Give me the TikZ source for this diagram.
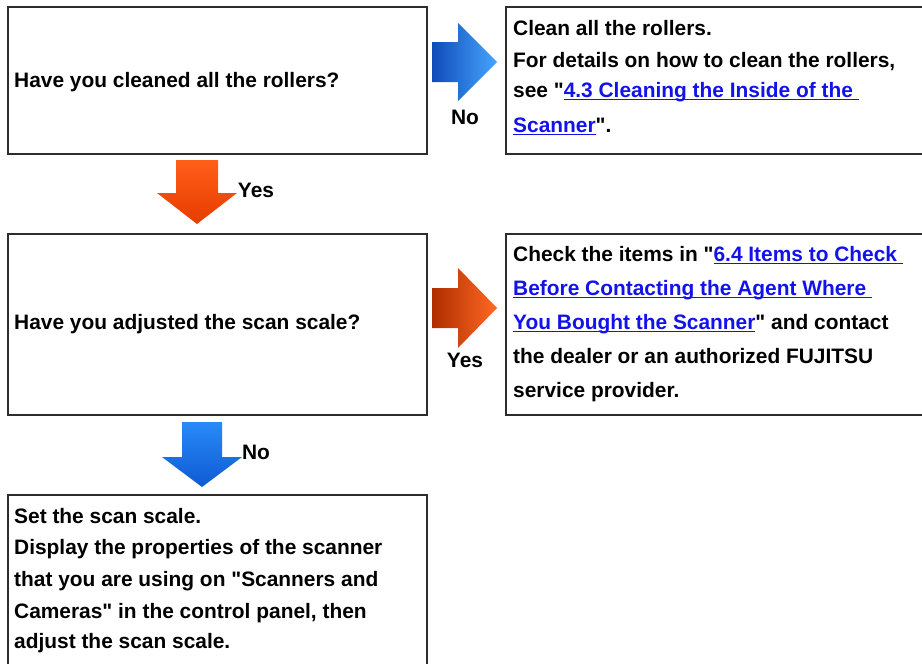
\documentclass[tikz,border=0pt]{standalone}
\usepackage{fontspec}
\setmainfont{Liberation Sans}
\definecolor{linkblue}{RGB}{18,18,235}
\definecolor{boxline}{RGB}{45,45,45}
\newcommand\myul[1]{\setbox0\hbox{#1}\rlap{\color{linkblue}\rule[-3.2pt]{\wd0}{1.5pt}}\textcolor{linkblue}{\box0}}
\newcommand\dq{\XeTeXglyph\XeTeXcharglyph"22\relax}
\begin{document}
\begin{tikzpicture}[x=1pt,y=-1pt,
  box/.style={draw=boxline,line width=1.6pt,fill=white,anchor=north west,inner sep=0pt},
  txt/.style={anchor=base west,inner sep=0pt,font=\fontsize{20.9}{24}\selectfont\bfseries},
  lbl/.style={inner sep=0pt,font=\fontsize{20.9}{24}\selectfont\bfseries},
  bluer/.style={left color={rgb,255:red,15;green,75;blue,185},middle color={rgb,255:red,30;green,130;blue,245},right color={rgb,255:red,70;green,165;blue,255}},
  oranger/.style={left color={rgb,255:red,175;green,45;blue,0},middle color={rgb,255:red,255;green,82;blue,5},right color={rgb,255:red,255;green,105;blue,35}},
  blued/.style={top color={rgb,255:red,40;green,138;blue,248},bottom color={rgb,255:red,15;green,90;blue,210}},
  oranged/.style={top color={rgb,255:red,255;green,95;blue,25},bottom color={rgb,255:red,230;green,60;blue,0}}]
\clip (0,0) rectangle (922,664);
\fill[white] (0,0) rectangle (922,664);
% boxes
\node[box,minimum width=419pt,minimum height=147pt] (q1) at (7,6) {};
\node[box,minimum width=430pt,minimum height=147pt] (a1) at (505,6) {};
\node[box,minimum width=419pt,minimum height=181pt] (q2) at (7,233) {};
\node[box,minimum width=430pt,minimum height=181pt] (a2) at (505,233) {};
\node[box,minimum width=419pt,minimum height=190pt] (a3) at (7,494) {};
% texts
\node[txt] (q1t) at (14,87) {Have you cleaned all the rollers?};
\node[txt] (a1l1) at (513,35) {Clean all the rollers.};
\node[txt] (a1l2) at (513,67) {For details on how to clean the rollers,};
\node[txt] (a1l3) at (513,97) {see \dq\myul{4.3 Cleaning the Inside of the }};
\node[txt] (a1l4) at (513,132) {\myul{Scanner}\dq.};
\node[txt] (q2t) at (14,329) {Have you adjusted the scan scale?};
\node[txt] (a2l1) at (513,261) {Check the items in \dq\myul{6.4 Items to Check }};
\node[txt] (a2l2) at (513,295) {\myul{Before Contacting the Agent Where }};
\node[txt] (a2l3) at (513,329) {\myul{You Bought the Scanner}\dq{} and contact};
\node[txt] (a2l4) at (513,363) {the dealer or an authorized FUJITSU};
\node[txt] (a2l5) at (513,397) {service provider.};
\node[txt] (a3l1) at (14,523) {Set the scan scale.};
\node[txt] (a3l2) at (14,554) {Display the properties of the scanner};
\node[txt] (a3l3) at (14,586) {that you are using on \dq Scanners and};
\node[txt] (a3l4) at (14,618) {Cameras\dq{} in the control panel, then};
\node[txt] (a3l5) at (14,648) {adjust the scan scale.};
% arrows
\path[bluer] (432,42) -- (458,42) -- (458,23) -- (497,62) -- (458,101) -- (458,82) -- (432,82) -- cycle;
\node[lbl] (no1) at (465,117) {No};
\path[oranged] (176,160) -- (218,160) -- (218,193) -- (237,193) -- (197,224) -- (157,193) -- (176,193) -- cycle;
\node[lbl] (yes1) at (256,190) {Yes};
\path[oranger] (432,288) -- (458,288) -- (458,268) -- (497,308) -- (458,348) -- (458,328) -- (432,328) -- cycle;
\node[lbl] (yes2) at (465,360) {Yes};
\path[blued] (182,422) -- (222,422) -- (222,457) -- (242,457) -- (202,487) -- (162,457) -- (182,457) -- cycle;
\node[lbl] (no2) at (256,452) {No};
\end{tikzpicture}
\end{document}
